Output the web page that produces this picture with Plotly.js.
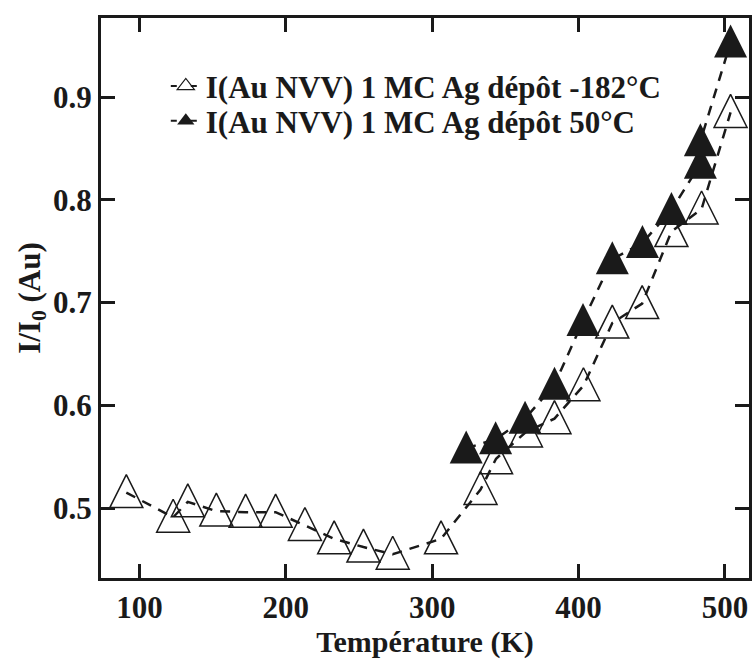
<!DOCTYPE html>
<html>
<head>
<meta charset="utf-8">
<script src="https://cdn.plot.ly/plotly-3.0.1.min.js"></script>
<style>html,body{margin:0;padding:0;background:#fff;}#chart{width:752px;height:659px;}</style>
</head>
<body>
<div id="chart"></div>
<script>
// Temperature (K) and I/I0 values
const openT = [91, 123, 133, 152.5, 172.5, 193, 213, 233, 253, 273, 306, 333, 343.6, 364, 383.5, 403.3, 423, 443.4, 463.4, 484, 503.8];
const openI = [0.515, 0.491, 0.506, 0.497, 0.496, 0.496, 0.483, 0.470, 0.462, 0.455, 0.470, 0.518, 0.548, 0.574, 0.587, 0.619, 0.680, 0.699, 0.769, 0.791, 0.885];
const filledT = [323.2, 343.3, 363.4, 383.5, 403, 423, 443.6, 463.4, 483.2, 483.2, 503.8];
const filledI = [0.558, 0.567, 0.587, 0.620, 0.682, 0.742, 0.758, 0.790, 0.835, 0.857, 0.953];
const seriesNames = ["I(Au NVV) 1 MC Ag dépôt -182°C", "I(Au NVV) 1 MC Ag dépôt 50°C"];
const xTicks = [100, 200, 300, 400, 500];
const yTicks = [0.5, 0.6, 0.7, 0.8, 0.9];

const FONT = "Liberation Serif, Times New Roman, serif";
const ink = "#1a1a1a";
const dashLine = {color: ink, width: 2.5, dash: "10px,8px"};

const traces = [
  {
    x: openT, y: openI, name: seriesNames[0], type: "scatter", mode: "lines+markers",
    showlegend: false, line: dashLine,
    marker: {symbol: "arrow-down-open", angle: 180, size: 33, standoff: 18, color: ink, line: {width: 1.5, color: ink}}
  },
  {
    x: filledT, y: filledI, name: seriesNames[1], type: "scatter", mode: "lines+markers",
    showlegend: false, line: dashLine,
    marker: {symbol: "arrow-down", angle: 180, size: 33, standoff: 18, color: ink, line: {width: 0}}
  },
  // legend entries (same series styling, small symbol as in the reference key)
  {
    x: [null], y: [null], name: seriesNames[0], type: "scatter", mode: "lines+markers",
    legend: "legend", line: {color: ink, width: 2, dash: "6px,14px"},
    marker: {symbol: "triangle-up-open", size: 15, color: ink, line: {width: 1.2, color: ink}}
  },
  {
    x: [null], y: [null], name: seriesNames[1], type: "scatter", mode: "lines+markers",
    legend: "legend2", line: {color: ink, width: 2, dash: "6px,14px"},
    marker: {symbol: "triangle-up", size: 15, color: ink, line: {width: 0}}
  }
];

const axisCommon = {
  showline: true, linewidth: 3, linecolor: ink, mirror: "ticks",
  ticks: "inside", ticklen: 14, tickwidth: 3, tickcolor: ink,
  showgrid: false, zeroline: false,
  tickfont: {family: FONT, size: 31, color: ink, weight: "bold"}
};

const legendCommon = {
  x: 0.1, xanchor: "left", yanchor: "middle",
  bgcolor: "rgba(0,0,0,0)", borderwidth: 0,
  font: {family: FONT, size: 31, color: ink, weight: "bold"}
};

const layout = {
  width: 752, height: 659,
  margin: {l: 101, r: 3, t: 18, b: 81},
  paper_bgcolor: "#fff", plot_bgcolor: "#fff",
  showlegend: true,
  legend: Object.assign({}, legendCommon, {y: 0.878}),
  legend2: Object.assign({}, legendCommon, {y: 0.816}),
  xaxis: Object.assign({}, axisCommon, {
    range: [73.7, 516.4], tickvals: xTicks, ticktext: xTicks.map(String),
    title: {text: "Température (K)", font: {family: FONT, size: 30, color: ink, weight: "bold"}, standoff: 6}
  }),
  yaxis: Object.assign({}, axisCommon, {
    range: [0.4319, 0.9769], tickvals: yTicks, ticktext: yTicks.map(v => v.toFixed(1)),
    title: {text: "I/I<sub>0</sub> (Au)", font: {family: FONT, size: 31, color: ink, weight: "bold"}, standoff: 4}
  })
};

Plotly.newPlot("chart", traces, layout, {displayModeBar: false, staticPlot: true});
</script>
</body>
</html>
